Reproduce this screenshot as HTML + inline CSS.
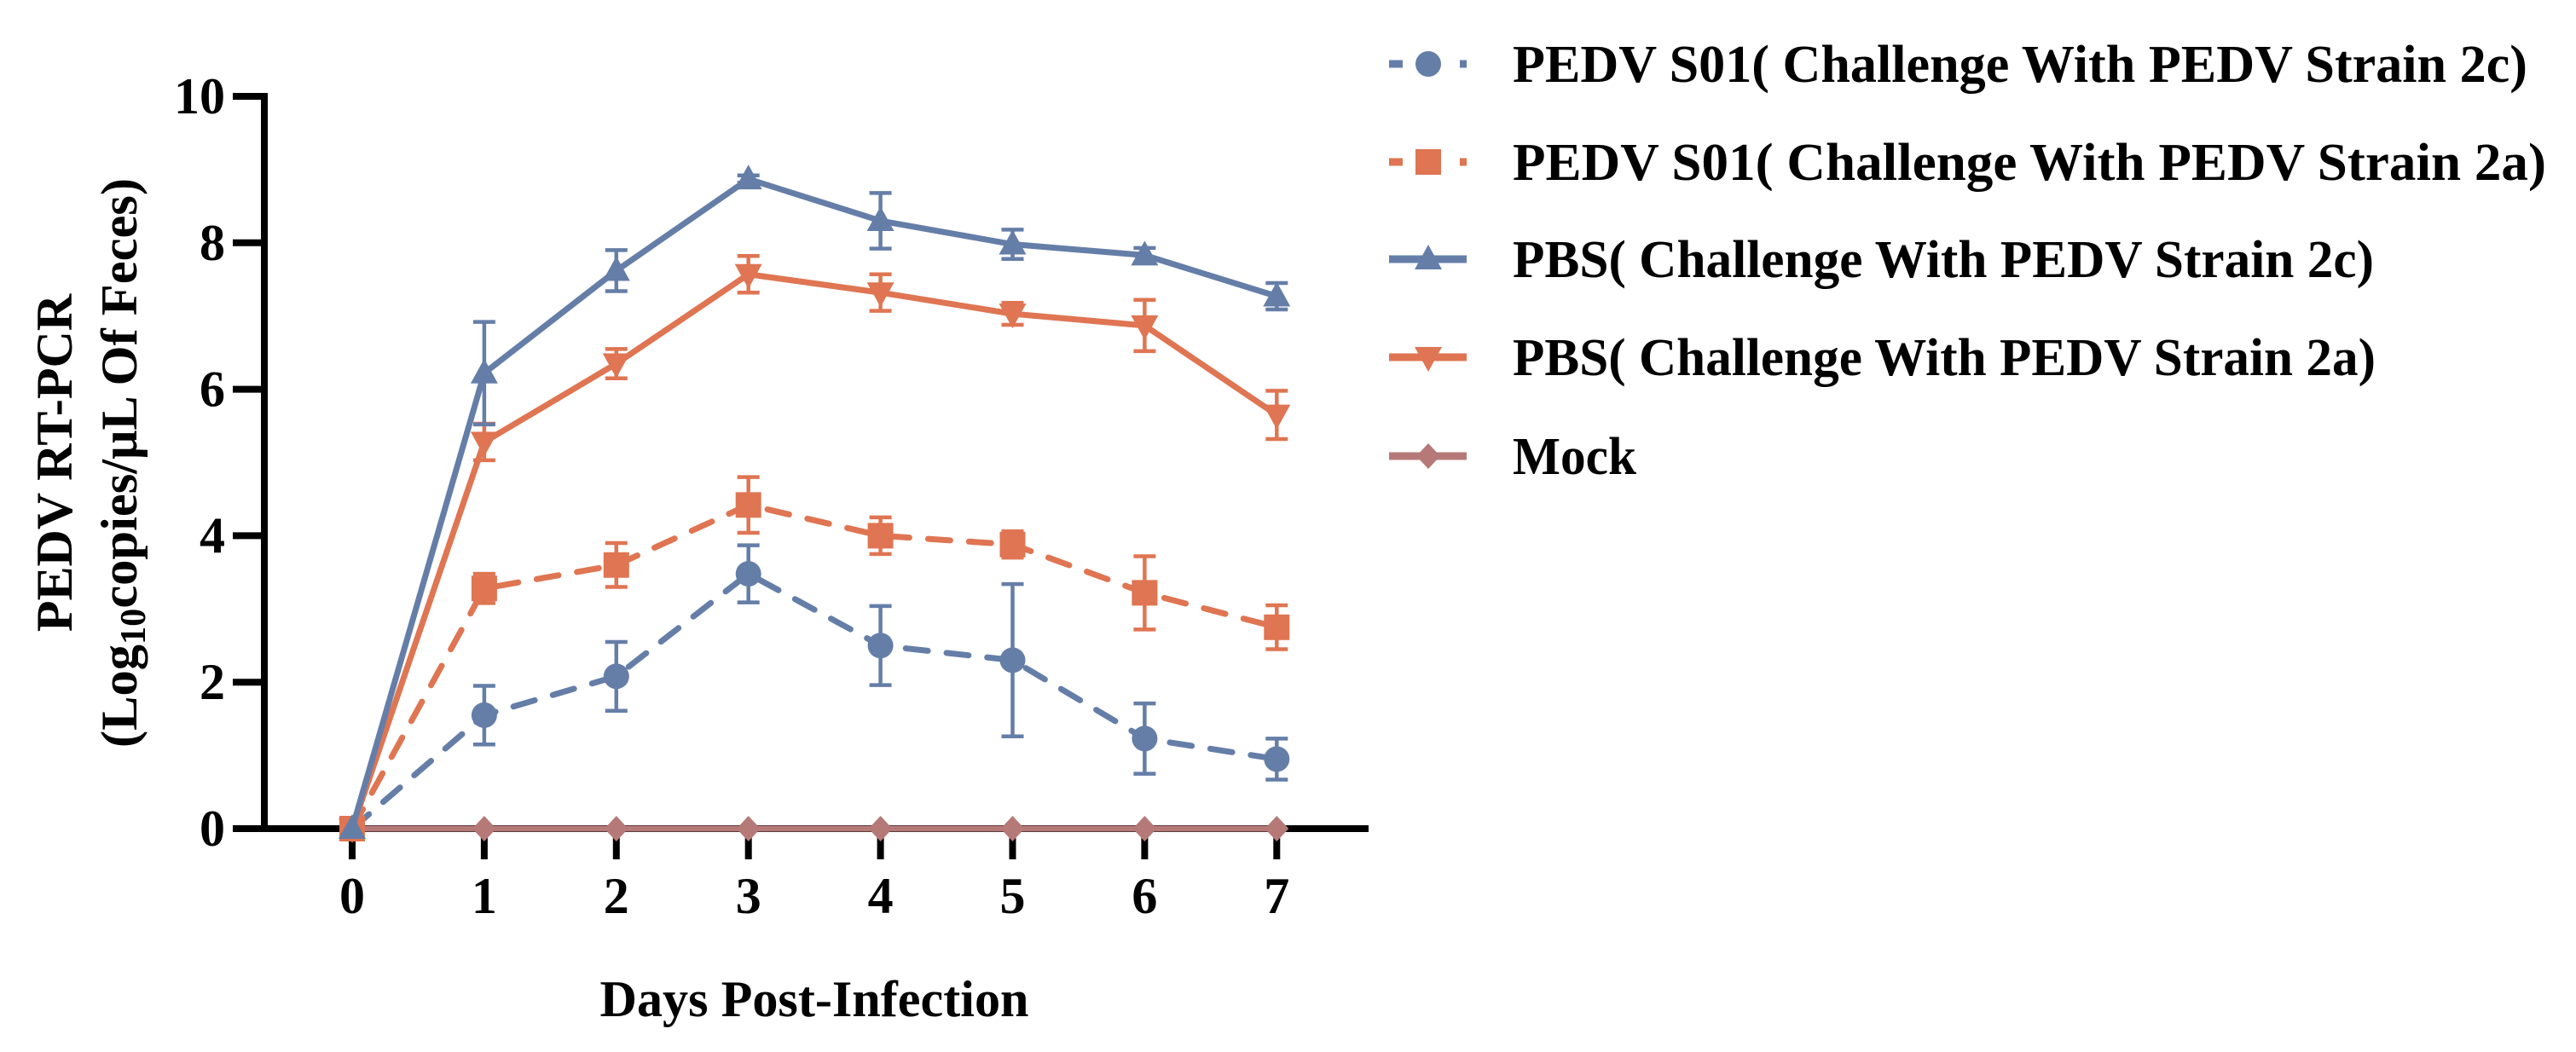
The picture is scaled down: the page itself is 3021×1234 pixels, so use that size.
<!DOCTYPE html>
<html><head><meta charset="utf-8">
<style>
html,body{margin:0;padding:0;background:#fff;}
svg{display:block;}
svg text{font-family:"Liberation Serif","Times New Roman",serif;font-weight:bold;}
</style></head>
<body>
<svg id="chart" width="3021" height="1234" viewBox="0 0 3021 1234" xmlns="http://www.w3.org/2000/svg">
<g id="axes"></g>
<g id="series"></g>
<g id="legend"></g>
<text transform="translate(84,543) rotate(-90)" text-anchor="middle" font-size="60">PEDV RT-PCR</text>
<text transform="translate(160,543) rotate(-90)" text-anchor="middle" font-size="60" textLength="668" lengthAdjust="spacingAndGlyphs">(Log<tspan font-size="42" dy="10">10</tspan><tspan dy="-10">copies/μL Of Feces)</tspan></text>
<text x="955" y="1192" text-anchor="middle" font-size="60" textLength="503" lengthAdjust="spacingAndGlyphs">Days Post-Infection</text>
</svg>
<script>
const days = [0,1,2,3,4,5,6,7];
const yTicks = [0,2,4,6,8,10];
const seriesNames = ["PEDV S01( Challenge With PEDV Strain 2c)","PEDV S01( Challenge With PEDV Strain 2a)","PBS( Challenge With PEDV Strain 2c)","PBS( Challenge With PEDV Strain 2a)","Mock"];
const s01_2c = [0,1.55,2.08,3.48,2.5,2.3,1.23,0.95];
const s01_2c_err = [0,0.4,0.47,0.39,0.54,1.04,0.48,0.28];
const s01_2a = [0,3.28,3.6,4.42,4.0,3.88,3.22,2.75];
const s01_2a_err = [0,0.2,0.3,0.38,0.25,0.18,0.5,0.3];
const pbs_2c = [0,6.22,7.62,8.87,8.3,7.98,7.83,7.27];
const pbs_2c_err = [0,0.7,0.28,0.05,0.38,0.2,0.1,0.18];
const pbs_2a = [0,5.28,6.35,7.57,7.32,7.03,6.87,5.65];
const pbs_2a_err = [0,0.25,0.2,0.25,0.25,0.15,0.35,0.33];
const mock = [0,0,0,0,0,0,0,0];
const mock_err = [0,0,0,0,0,0,0,0];

const NS="http://www.w3.org/2000/svg";
const X0=413, XS=154.9, Y0=972, YS=85.9;
const xS = d => X0 + d*XS;
const yS = v => Y0 - v*YS;
function mk(tag, attrs, parent){const e=document.createElementNS(NS,tag);for(const k in attrs)e.setAttribute(k,attrs[k]);parent.appendChild(e);return e;}
const axes=document.getElementById('axes'), ser=document.getElementById('series'), leg=document.getElementById('legend');

let e;
e=mk('line',{x1:310,y1:yS(10)-4,x2:310,y2:Y0+4,stroke:'#000','stroke-width':8},axes);


e=mk('line',{x1:273,y1:Y0,x2:1605,y2:Y0,stroke:'#000','stroke-width':8},axes);


yTicks.forEach(v=>{
  const t=mk('line',{x1:273,y1:yS(v),x2:310,y2:yS(v),stroke:'#000','stroke-width':8},axes);
  
  
  const l=mk('text',{x:264,y:yS(v)+20,'text-anchor':'end','font-size':60},axes);
  l.textContent=v;
  
  
});
days.forEach(d=>{
  const t=mk('line',{x1:xS(d),y1:Y0,x2:xS(d),y2:1008,stroke:'#000','stroke-width':8},axes);
  
  
  const l=mk('text',{x:xS(d),y:1071,'text-anchor':'middle','font-size':60},axes);
  l.textContent=d;
  
  
});

const BLUE='#657ea8', ORANGE='#df7552', MOCK='#b57a78';
function marker(type,x,y,color,parent){
  let m;
  if(type==='circle') m=mk('circle',{cx:x,cy:y,r:15,fill:color},parent);
  else if(type==='square') m=mk('rect',{x:x-15,y:y-15,width:30,height:30,fill:color},parent);
  else if(type==='tri') m=mk('polygon',{points:`${x},${y-17} ${x-16},${y+12} ${x+16},${y+12}`,fill:color},parent);
  else if(type==='itri') m=mk('polygon',{points:`${x},${y+17} ${x-16},${y-12} ${x+16},${y-12}`,fill:color},parent);
  else m=mk('polygon',{points:`${x},${y-15} ${x+14},${y} ${x},${y+15} ${x-14},${y}`,fill:color},parent);
  return m;
}
const defs=[
 {vals:mock,err:mock_err,color:MOCK,dash:null,mk:'diamond',name:'mock'},
 {vals:s01_2c,err:s01_2c_err,color:BLUE,dash:'26,22',mk:'circle',name:'pedv-s01-2c'},
 {vals:s01_2a,err:s01_2a_err,color:ORANGE,dash:'26,22',mk:'square',name:'pedv-s01-2a'},
 {vals:pbs_2a,err:pbs_2a_err,color:ORANGE,dash:null,mk:'itri',name:'pbs-2a'},
 {vals:pbs_2c,err:pbs_2c_err,color:BLUE,dash:null,mk:'tri',name:'pbs-2c'}
];
defs.forEach(s=>{
  const g=mk('g',{},ser);
  
  
  s.vals.forEach((v,i)=>{
    if(s.err[i]>0){
      const x=xS(days[i]), a=yS(v+s.err[i]), b=yS(v-s.err[i]);
      const eb=mk('path',{d:`M${x},${a}V${b}M${x-13},${a}H${x+13}M${x-13},${b}H${x+13}`,stroke:s.color,'stroke-width':4.5,fill:'none'},g);
      
      
    }
  });
  const pts=s.vals.map((v,i)=>xS(days[i])+','+yS(v)).join(' ');
  const pl=mk('polyline',{points:pts,fill:'none',stroke:s.color,'stroke-width':7,'stroke-linecap':s.dash?'round':'butt','stroke-linejoin':'round'},g);
  if(s.dash) pl.setAttribute('stroke-dasharray',s.dash);
  
  
  s.vals.forEach((v,i)=>{
    const m=marker(s.mk,xS(days[i]),yS(v),s.color,g);
    
    
  });
});

const legDefs=[
 {color:BLUE,dash:true,mk:'circle',w:1190},
 {color:ORANGE,dash:true,mk:'square',w:1212},
 {color:BLUE,dash:false,mk:'tri',w:1010},
 {color:ORANGE,dash:false,mk:'itri',w:1012},
 {color:MOCK,dash:false,mk:'diamond',w:145}
];
const legY=[75,190,304,419,535];
legDefs.forEach((d,i)=>{
  const g=mk('g',{},leg);
  
  
  const y=legY[i];
  if(d.dash){
    mk('line',{x1:1629,y1:y,x2:1645,y2:y,stroke:d.color,'stroke-width':9},g);
    mk('line',{x1:1712,y1:y,x2:1720,y2:y,stroke:d.color,'stroke-width':9},g);
  } else {
    mk('line',{x1:1629,y1:y,x2:1720,y2:y,stroke:d.color,'stroke-width':9},g);
  }
  marker(d.mk,1675,y,d.color,g);
  const t=mk('text',{x:1774,y:y+21,'font-size':62,textLength:d.w,lengthAdjust:'spacingAndGlyphs'},g);
  t.textContent=seriesNames[i];
  
  
});
</script>
</body></html>
